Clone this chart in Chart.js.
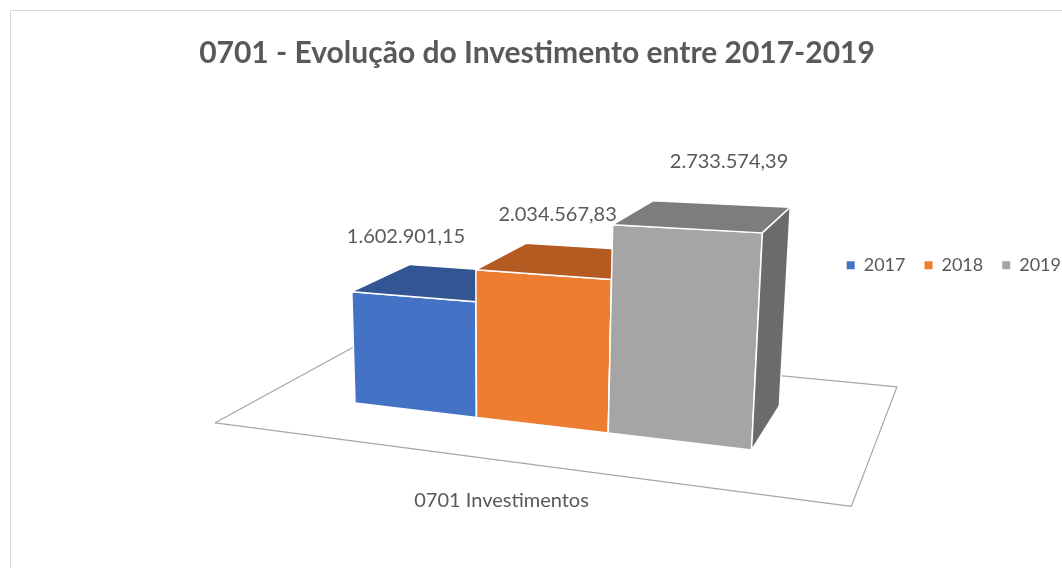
<!DOCTYPE html>
<html lang="pt-BR">
<head>
<meta charset="utf-8">
<title>0701 - Evolução do Investimento entre 2017-2019</title>
<script src="https://cdn.jsdelivr.net/npm/chart.js@4.4.1/dist/chart.umd.min.js"></script>
<style>
  html, body { margin: 0; padding: 0; background: #fff; overflow: hidden; }
  body { width: 1062px; height: 568px; position: relative; }
  #moldura { position: absolute; left: 10px; top: 10px; width: 1100px; height: 600px; border: 1px solid #d9d9d9; }
  #grafico { position: absolute; left: -6px; top: 11px; }
</style>
</head>
<body>
<div id="moldura"></div>
<canvas id="grafico" width="1086" height="560"></canvas>
<script>
var categorias = ['0701 Investimentos'];
var anos = ['2017', '2018', '2019'];
var valores2017 = [1602901.15];
var valores2018 = [2034567.83];
var valores2019 = [2733574.39];
var eixoMax = 3000000;

var coresFrente = ['#4472C4', '#ED7D31', '#A5A5A5'];
var coresTopo = ['#335593', '#B35B21', '#7D7D7D'];
var coresLado = ['#2B4A80', '#9E4F1C', '#6B6B6B'];

// camera em perspectiva: pontos de fuga dos eixos X, Y, Z e a origem (canto frontal inferior esquerdo das barras)
var cam = {
    origem: [361, 392],
    fugaX: [-2652, 34],
    fugaY: [506, 5489],
    fugaZ: [1066, -51],
    kx: -0.1163, ky: -0.040, kz: 0.0876
};

function projeta(X, Y, Z) {
    var a = cam.kx * X, b = cam.ky * Y, c = cam.kz * Z;
    var w = a + b + c + 1;
    return [
        (a * cam.fugaX[0] + b * cam.fugaY[0] + c * cam.fugaZ[0] + cam.origem[0]) / w,
        (a * cam.fugaX[1] + b * cam.fugaY[1] + c * cam.fugaZ[1] + cam.origem[1]) / w
    ];
}

function poligono(ctx, pts, fill, stroke, lw) {
    ctx.beginPath();
    pts.forEach(function (p, i) {
        var s = projeta(p[0], p[1], p[2]);
        if (i === 0) ctx.moveTo(s[0], s[1]); else ctx.lineTo(s[0], s[1]);
    });
    ctx.closePath();
    if (fill) { ctx.fillStyle = fill; ctx.fill(); }
    if (stroke) { ctx.strokeStyle = stroke; ctx.lineWidth = lw; ctx.stroke(); }
}

function formataBR(v) {
    var partes = v.toFixed(2).split('.');
    return partes[0].replace(/\B(?=(\d{3})+(?!\d))/g, '.') + ',' + partes[1];
}

var PROF_PISO = 1.26;   // meia profundidade do piso, em profundidades de barra

var barras3d = {
    id: 'barras3d',
    beforeDatasetsDraw: function (chart) {
        var ctx = chart.ctx, xs = chart.scales.x, ys = chart.scales.y;
        var ext = 1.5; // largura da categoria em larguras do grupo de barras
        function mundoX(px) { return (px - xs.left) / xs.width * ext - (ext - 1) / 2; }
        function mundoY(py) { return (ys.bottom - py) / ys.height; }

        ctx.save();
        ctx.lineJoin = 'round';

        // piso
        var xa = mundoX(xs.left), xb = mundoX(xs.right);
        var za = 0.5 - PROF_PISO, zb = 0.5 + PROF_PISO;
        poligono(ctx, [[xa, 0, za], [xb, 0, za], [xb, 0, zb], [xa, 0, zb]], '#ffffff', '#a6a6a6', 1.2);

        var rotulos = [];
        chart.data.datasets.forEach(function (ds, i) {
            var meta = chart.getDatasetMeta(i);
            meta.data.forEach(function (bar, j) {
                var p = bar.getProps(['x', 'y', 'base', 'width'], true);
                var x0 = mundoX(p.x - p.width / 2), x1 = mundoX(p.x + p.width / 2);
                var y0 = mundoY(p.base), y1 = mundoY(p.y);
                // frente
                poligono(ctx, [[x0, y0, 0], [x1, y0, 0], [x1, y1, 0], [x0, y1, 0]], coresFrente[i], '#ffffff', 1.5);
                // topo
                poligono(ctx, [[x0, y1, 0], [x1, y1, 0], [x1, y1, 1], [x0, y1, 1]], coresTopo[i], '#ffffff', 1.5);
                // lado direito
                poligono(ctx, [[x1, y0, 0], [x1, y1, 0], [x1, y1, 1], [x1, y0, 1]], coresLado[i], '#ffffff', 1.5);
                // ancora do rotulo: centro do topo levado para a frente da cena
                rotulos.push({ pos: projeta((x0 + x1) / 2, y1, -2), texto: formataBR(ds.data[j]) });
            });
        });

        ctx.fillStyle = '#595959';
        ctx.font = '20px Lato';
        ctx.textAlign = 'center';
        ctx.textBaseline = 'middle';
        rotulos.forEach(function (r) {
            ctx.fillText(r.texto, r.pos[0] + 138, r.pos[1] - 135);
        });

        // rotulo da categoria, abaixo da borda frontal do piso
        chart.data.labels.forEach(function (lab, k) {
            var c = projeta(mundoX(xs.getPixelForValue(k)), 0, za);
            ctx.fillText(lab, c[0], c[1] + 40);
        });

        ctx.restore();
        return false;
    }
};

var series = [valores2017, valores2018, valores2019];

new Chart(document.getElementById('grafico'), {
    type: 'bar',
    data: {
        labels: categorias,
        datasets: anos.map(function (ano, i) {
            return {
                label: ano,
                data: series[i],
                backgroundColor: coresFrente[i],
                borderWidth: 0,
                categoryPercentage: 1 / 1.5,
                barPercentage: 1
            };
        })
    },
    options: {
        responsive: false,
        animation: false,
        devicePixelRatio: 1,
        layout: { padding: 0 },
        plugins: {
            title: {
                display: true,
                text: '0701 - Evolução do Investimento entre 2017-2019',
                color: '#595959',
                font: { family: 'Lato', size: 30, weight: 'bold' },
                padding: { top: 24.4, bottom: 165.8 }
            },
            legend: {
                position: 'top',
                align: 'end',
                labels: {
                    boxWidth: 8,
                    boxHeight: 8,
                    padding: 19,
                    color: '#595959',
                    font: { family: 'Lato', size: 18 }
                }
            },
            tooltip: { enabled: false }
        },
        scales: {
            x: { display: false },
            y: { display: false, min: 0, max: eixoMax }
        }
    },
    plugins: [barras3d]
});
</script>
</body>
</html>
